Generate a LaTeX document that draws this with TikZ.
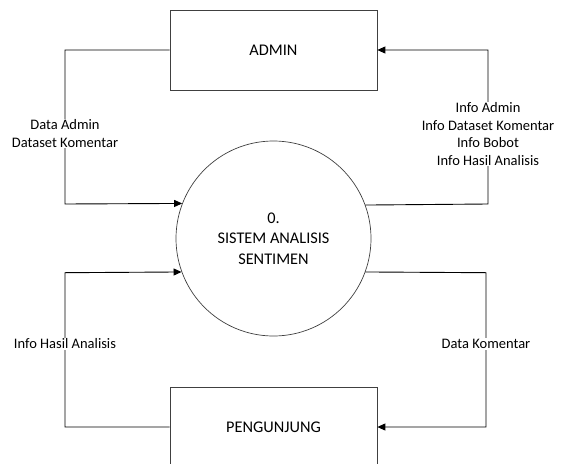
\documentclass[tikz,border=0pt]{standalone}
\usepackage{fontspec}
\setmainfont{Carlito}
\usetikzlibrary{arrows.meta}
\begin{document}
\begin{tikzpicture}[x=1pt,y=-1pt,
  entity/.style={draw=black!75,line width=0.7pt,minimum width=207pt,minimum height=80pt,
    inner sep=0pt,font=\fontsize{16.3}{20}\selectfont},
  process/.style={circle,draw=black!75,line width=0.7pt,minimum size=195pt,inner sep=0pt,
    align=center,font=\fontsize{16.3}{20.5}\selectfont},
  flow/.style={line width=0.9pt,-{Triangle[length=8pt,width=7pt]}},
  flowlabel/.style={fill=white,align=center,inner sep=1pt,font=\fontsize{14.5}{17.5}\selectfont}]
\useasboundingbox (0,0) rectangle (562,463);
\clip (0,0) rectangle (562,463);

% external entities and the central process
\node[entity] (admin) at (273.5,50) {ADMIN};
\node[entity] (visitor) at (273.5,427) {PENGUNJUNG};
\node[process] (sys) at (273.5,238.5) {0.\\SISTEM ANALISIS\\SENTIMEN};

% corner points of the data flows
\coordinate (c1) at (65,50);
\coordinate (c2) at (65,204);
\coordinate (c3) at (488,204);
\coordinate (c4) at (488,50);
\coordinate (c5) at (65,427);
\coordinate (c6) at (65,272.7);
\coordinate (c7) at (486,272.7);
\coordinate (c8) at (486,427);

% data flows
\draw[flow] (admin.west) -- (c1) -- (c2) -- (sys.159.3);
\draw[flow] (sys.20.7) -- (c3) -- (c4) -- (admin.east);
\draw[flow] (visitor.west) -- (c5) -- (c6) -- (sys.200.5);
\draw[flow] (sys.-20.5) -- (c7) -- (c8) -- (visitor.east);

% flow labels
\node[flowlabel] (l1) at (65,133.5) {Data Admin\\Dataset Komentar};
\node[flowlabel] (l2) at (488,134) {Info Admin\\Info Dataset Komentar\\Info Bobot\\Info Hasil Analisis};
\node[flowlabel] (l3) at (65,344) {Info Hasil Analisis};
\node[flowlabel] (l4) at (486,344) {Data Komentar};
\end{tikzpicture}
\end{document}
